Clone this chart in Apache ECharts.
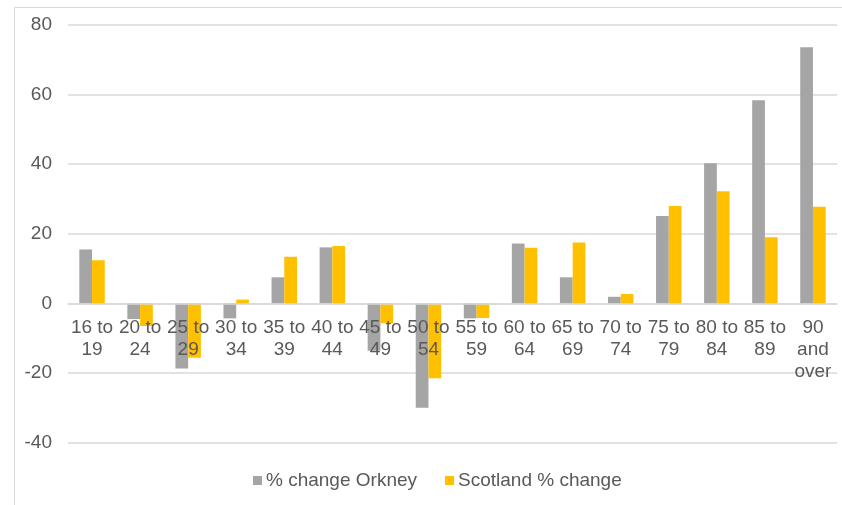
<!DOCTYPE html>
<html><head><meta charset="utf-8">
<script src="https://cdn.jsdelivr.net/npm/echarts@6/dist/echarts.min.js"></script>
<style>html,body{margin:0;padding:0;background:#fff}#c{width:842px;height:505px}</style>
</head><body><div id="c"></div>
<script>
const categories = ['16 to\n19','20 to\n24','25 to\n29','30 to\n34','35 to\n39','40 to\n44','45 to\n49','50 to\n54','55 to\n59','60 to\n64','65 to\n69','70 to\n74','75 to\n79','80 to\n84','85 to\n89','90\nand\nover'];
const orkney = [15.5, -4.5, -18.7, -4.3, 7.5, 16.1, -13.6, -30.0, -4.3, 17.2, 7.5, 1.9, 25.1, 40.3, 58.4, 73.6];
const scotland = [12.4, -6.5, -15.6, 1.1, 13.4, 16.5, -5.7, -21.5, -4.2, 16.0, 17.5, 2.7, 28.0, 32.2, 19.0, 27.8];
const seriesNames = ['% change Orkney', 'Scotland % change'];
const yTicks = {min: -40, max: 80, interval: 20};

const chart = echarts.init(document.getElementById('c'), null, {renderer: 'canvas'});
const font = '"Liberation Sans", Arial, sans-serif';
chart.setOption({
  animation: false,
  graphic: [{type: 'rect', left: 12, top: 5, shape: {width: 840, height: 510}, style: {fill: 'none', stroke: '#d9d9d9', lineWidth: 1}, silent: true, z: -1}],
  grid: {left: 68, right: 5, top: 25, bottom: 62.4, containLabel: false, outerBoundsMode: 'none'},
  legend: {
    bottom: 10, left: 248, itemWidth: 9, itemHeight: 9, itemGap: 28,
    icon: 'rect',
    textStyle: {fontFamily: font, fontSize: 19, color: '#595959', padding: [0, 0, 0, -1]},
    data: seriesNames
  },
  xAxis: {
    type: 'category', data: categories, z: 5,
    axisLine: {onZero: true, onZeroAxisIndex: 0, lineStyle: {color: '#d9d9d9', width: 1.5}},
    axisTick: {show: false},
    axisLabel: {interval: 0, fontFamily: font, fontSize: 19, color: '#595959', lineHeight: 22, margin: -126}
  },
  yAxis: {
    type: 'value', min: yTicks.min, max: yTicks.max, interval: yTicks.interval,
    axisLine: {show: true, lineStyle: {color: 'rgba(0,0,0,0)'}}, axisTick: {show: false},
    axisLabel: {fontFamily: font, fontSize: 19, color: '#595959', margin: 16},
    splitLine: {lineStyle: {color: '#d9d9d9', width: 1.5}}
  },
  series: [
    {name: seriesNames[0], type: 'bar', data: orkney, barWidth: '26.5%', barGap: '0%', itemStyle: {color: '#a5a5a5'}},
    {name: seriesNames[1], type: 'bar', data: scotland, barWidth: '26.5%', barGap: '0%', itemStyle: {color: '#ffc000'}}
  ]
});
</script></body></html>
